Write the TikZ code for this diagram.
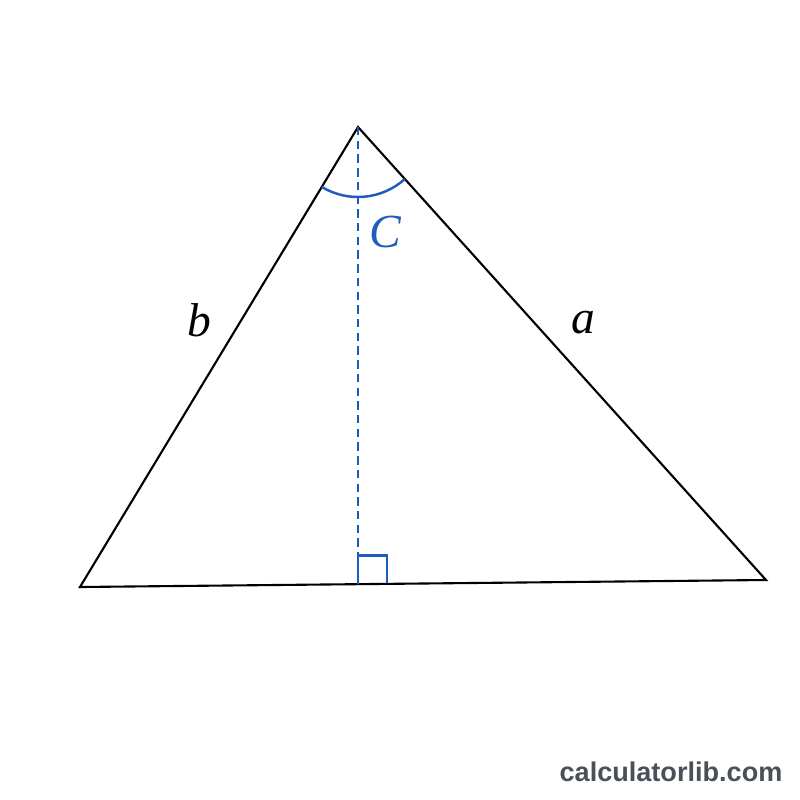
\documentclass[tikz,border=0pt]{standalone}
\usepackage{fontspec}
\newfontfamily\markfont{Liberation Sans}
\newfontfamily\letterfont{Liberation Serif}
\definecolor{angleblue}{RGB}{30,92,190}
\definecolor{markgray}{RGB}{74,80,90}
\begin{document}
\begin{tikzpicture}[x=0.01cm,y=-0.01cm,
    side/.style={line width=0.6pt, black},
    helper/.style={line width=0.7pt, angleblue},
    lbl/.style={font=\letterfont\itshape\fontsize{13.5}{15}\selectfont, inner sep=0pt}]
        \useasboundingbox[fill=white] (0,0) rectangle (800,800);

        % triangle
        \coordinate (top) at (358,127);
        \coordinate (left) at (80,587);
        \coordinate (right) at (766,580);
        \coordinate (foot) at (358,583.6);

        \draw[side, line join=miter] (left) -- (top) -- (right) -- cycle;

        % altitude
        \draw[helper, dash pattern=on 2.4pt off 1.5pt] (top) -- (foot);
        \draw[helper] (foot) -- ++(0,-28) coordinate (sq1) -- ++(29,0) coordinate (sq2) -- ++(0,27.8);

        % angle at the top
        \draw[helper] (top) ++(121.15:70) arc[start angle=121.15, end angle=48, radius=70];

        % labels
        \node[lbl, text=angleblue] (labC) at (385,232) {C};
        \node[lbl] (labb) at (199,320) {b};
        \node[lbl] (laba) at (583,323) {a};

        \node[font=\markfont\bfseries\fontsize{7.7}{9}\selectfont, text=markgray, inner sep=0pt] (mark) at (671,772) {calculatorlib.com};
\end{tikzpicture}
\end{document}
